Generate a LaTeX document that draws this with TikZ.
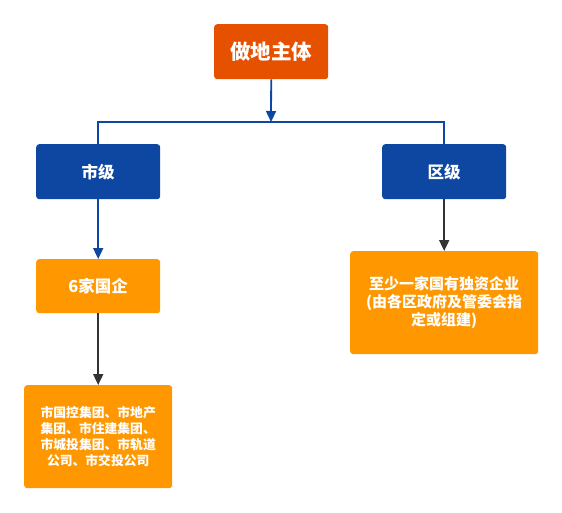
\documentclass[tikz,border=0pt]{standalone}
\usepackage{fontspec}
\newfontfamily\cjk{Noto Sans CJK SC}
\usetikzlibrary{arrows.meta}
\definecolor{topc}{HTML}{E65100}
\definecolor{bluec}{HTML}{0D47A1}
\definecolor{orc}{HTML}{FF9800}
\definecolor{darkc}{HTML}{333333}
\tikzset{
  box/.style={rounded corners=3pt, draw=none, text=white, font=\cjk\bfseries, align=center, inner sep=0pt, anchor=north west},
  conn/.style={line width=1.8pt},
  tip/.style={-{Triangle[width=10pt,length=11pt]}}
}
\begin{document}
\begin{tikzpicture}[x=1pt,y=-1pt]
\useasboundingbox (0,0) rectangle (562,513);
\node[box, fill=topc, minimum width=114pt, minimum height=55pt, font=\cjk\bfseries\fontsize{20.5}{24}\selectfont] (top) at (214,24) {做地主体};
\node[box, fill=bluec, minimum width=124pt, minimum height=55pt, font=\cjk\bfseries\fontsize{16.5}{19}\selectfont] (shi) at (36,144) {市级};
\node[box, fill=bluec, minimum width=124pt, minimum height=55pt, font=\cjk\bfseries\fontsize{16.5}{19}\selectfont] (qu) at (382,144) {区级};
\node[box, fill=orc, minimum width=124pt, minimum height=54pt, font=\cjk\bfseries\fontsize{16.5}{19}\selectfont] (guoqi) at (36,259) {6家国企};
\node[box, fill=orc, minimum width=148pt, minimum height=103pt, font=\cjk\bfseries\fontsize{12.8}{16}\selectfont] (list) at (24,385) {市国控集团、市地产\\集团、市住建集团、\\市城投集团、市轨道\\公司、市交投公司};
\node[box, fill=orc, minimum width=188pt, minimum height=103pt, font=\cjk\bfseries\fontsize{15}{18}\selectfont] (dist) at (350,251) {至少一家国有独资企业\\ (由各区政府及管委会指\\定或组建)};
\coordinate (j) at (271,122);
\draw[conn, bluec, tip] (top.south) -- (j);
\draw[conn, bluec] (shi.north) |- (j) -| (qu.north);
\draw[conn, bluec, tip] (shi.south) -- (guoqi.north);
\draw[conn, darkc, tip] (guoqi.south) -- (list.north);
\draw[conn, darkc, tip] (qu.south) -- (dist.north);
\end{tikzpicture}
\end{document}
